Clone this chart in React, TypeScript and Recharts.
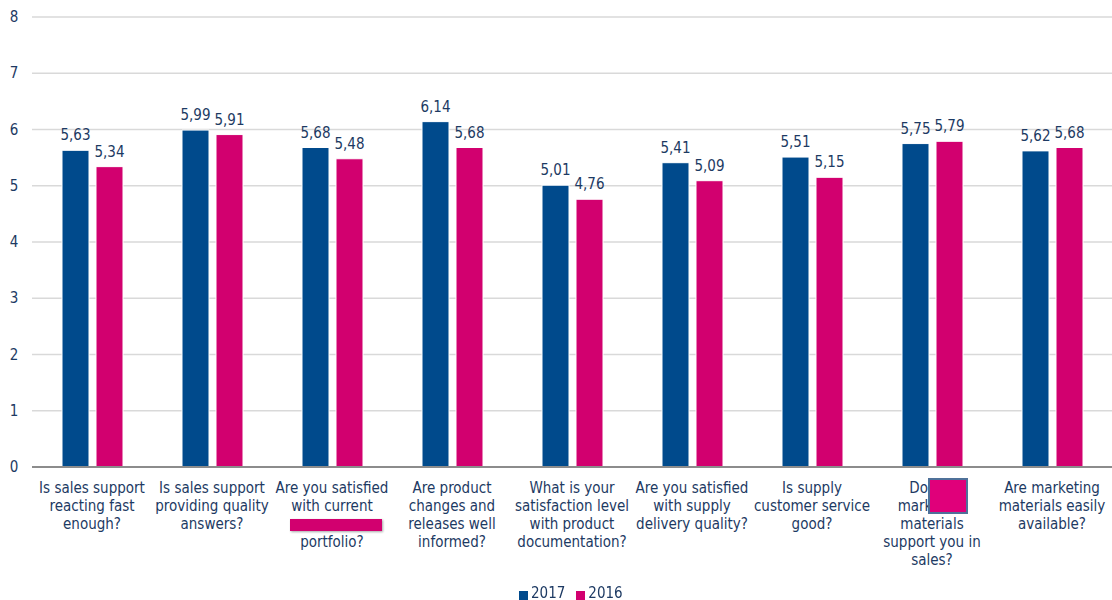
import { BarChart, Bar, XAxis, YAxis, CartesianGrid, LabelList } from 'recharts';

const questions: string[][] = [
  ['Is sales support', 'reacting fast', 'enough?'],
  ['Is sales support', 'providing quality', 'answers?'],
  ['Are you satisfied', 'with current', '', 'portfolio?'],
  ['Are product', 'changes and', 'releases well', 'informed?'],
  ['What is your', 'satisfaction level', 'with product', 'documentation?'],
  ['Are you satisfied', 'with supply', 'delivery quality?'],
  ['Is supply', 'customer service', 'good?'],
  ['Do our', 'marketing', 'materials', 'support you in', 'sales?'],
  ['Are marketing', 'materials easily', 'available?'],
];
const scores2017 = [5.63, 5.99, 5.68, 6.14, 5.01, 5.41, 5.51, 5.75, 5.62];
const scores2016 = [5.34, 5.91, 5.48, 5.68, 4.76, 5.09, 5.15, 5.79, 5.68];
const yTicks = [0, 1, 2, 3, 4, 5, 6, 7, 8];

const BLUE = '#004a8c';
const PINK = '#d2006f';
const TEXT = '#1d3a63';
const FONT = "'DejaVu Sans Condensed', 'DejaVu Sans', sans-serif";

const chartData = questions.map((lines, i) => ({
  name: lines.join(' '),
  y2017: scores2017[i],
  y2016: scores2016[i],
}));

const fmt = (v: any) => String(Number(v).toFixed(2)).replace('.', ',');

const CategoryTick = (props: any) => {
  const { x, y, payload } = props;
  const lines = questions[payload.index] || [];
  return (
    <g>
      <text x={x} y={y + 18} textAnchor="middle" fill={TEXT} fontSize={15} fontFamily={FONT}>
        {lines.map((ln, i) => (
          <tspan key={i} x={x} dy={i === 0 ? 0 : 18}>
            {ln || '\u00a0'}
          </tspan>
        ))}
      </text>
      {payload.index === 2 && (
        <rect x={x - 42} y={y + 44} width={92} height={12} fill={PINK} style={{ filter: 'drop-shadow(1px 1px 1px rgba(0,0,0,0.35))' }} />
      )}
      {payload.index === 7 && (
        <rect x={x - 3} y={y + 4} width={38} height={34} fill="#e0007a" stroke="#4f7199" strokeWidth={2} />
      )}
    </g>
  );
};

const ValueTick = (props: any) => {
  const { y, payload } = props;
  return (
    <text x={14} y={y + 5} textAnchor="middle" fill={TEXT} fontSize={15} fontFamily={FONT}>
      {payload.value}
    </text>
  );
};

export default function App() {
  return (
    <div style={{ position: 'fixed', left: 0, top: 0, width: 1112, height: 600, background: '#fff' }}>
      <BarChart
        width={1112}
        height={600}
        data={chartData}
        margin={{ top: 17, right: 0, left: 0, bottom: 33 }}
        barSize={27}
        barGap={7}
      >
        <CartesianGrid horizontal vertical={false} stroke="#d9d9d9" strokeWidth={1.5} />
        <YAxis
          width={32}
          domain={[0, 8]}
          ticks={yTicks}
          axisLine={false}
          tickLine={false}
          tick={<ValueTick />}
        />
        <XAxis
          dataKey="name"
          height={100}
          interval={0}
          tickLine={false}
          axisLine={{ stroke: '#8c8c8c', strokeWidth: 2 }}
          tick={<CategoryTick />}
        />
        <Bar dataKey="y2017" fill={BLUE} stroke="#ffffff" strokeWidth={1} isAnimationActive={false}>
          <LabelList dataKey="y2017" position="top" offset={10} fill={TEXT} fontSize={15} fontFamily={FONT} formatter={fmt} />
        </Bar>
        <Bar dataKey="y2016" fill={PINK} stroke="#ffffff" strokeWidth={1} isAnimationActive={false}>
          <LabelList dataKey="y2016" position="top" offset={10} fill={TEXT} fontSize={15} fontFamily={FONT} formatter={fmt} />
        </Bar>
      </BarChart>
      <div
        style={{
          position: 'absolute',
          top: 584,
          left: 519,
          display: 'flex',
          gap: 11,
          fontFamily: FONT,
          fontSize: 15,
          color: TEXT,
          lineHeight: '18px',
        }}
      >
        <span style={{ display: 'flex', alignItems: 'center', gap: 3 }}>
          <span style={{ width: 9, height: 9, marginTop: 4, background: BLUE, display: 'inline-block' }} />
          2017
        </span>
        <span style={{ display: 'flex', alignItems: 'center', gap: 3 }}>
          <span style={{ width: 9, height: 9, marginTop: 4, background: PINK, display: 'inline-block' }} />
          2016
        </span>
      </div>
    </div>
  );
}
